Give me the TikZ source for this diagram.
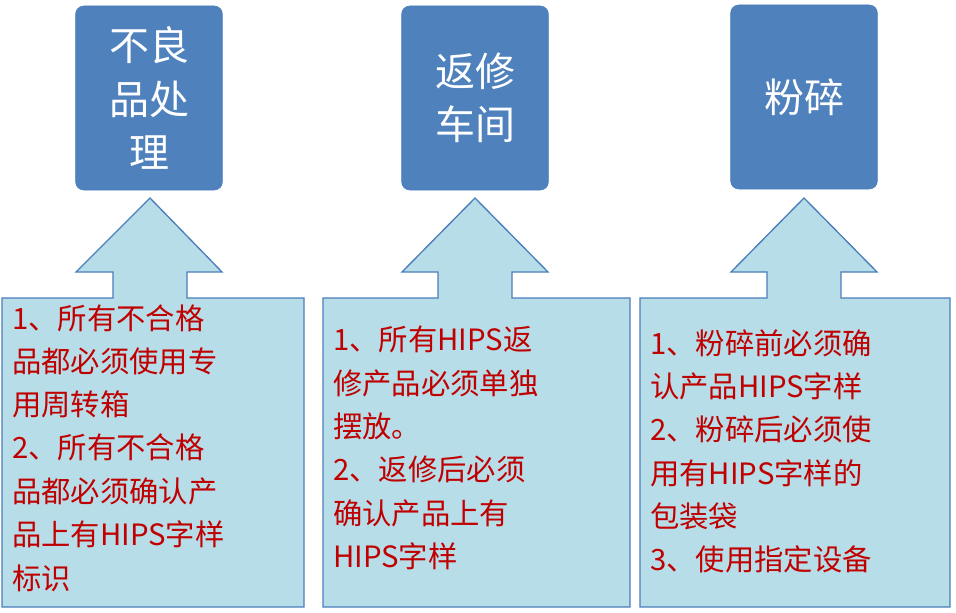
\documentclass[tikz,border=0pt]{standalone}
\usepackage{fontspec}
\setmainfont{Noto Sans CJK SC}
\usepackage{tikz}
\definecolor{headblue}{HTML}{4F81BD}
\definecolor{callblue}{HTML}{B7DDE8}
\definecolor{edgeblue}{HTML}{4A7EBB}
\definecolor{notered}{HTML}{C00000}
\tikzset{
  head/.style={draw=edgeblue, fill=headblue, rounded corners=6pt, text=white,
    minimum width=110pt, minimum height=138pt, align=center,
    font=\fontsize{30}{40}\selectfont},
  call/.style={draw=edgeblue, fill=callblue, line width=1pt, line join=miter},
  note/.style={anchor=north west, text=notered, align=left, inner sep=0pt,
    font=\fontsize{22}{32.5}\selectfont}
}
\begin{document}
\begin{tikzpicture}[x=0.75pt,y=-0.75pt]
\useasboundingbox (0,0) rectangle (956,613);
% top boxes
\node[head] (bad) at (149,98) {不良\\品处\\理};
\node[head] (rep) at (475,98) {返修\\车间};
\node[head] (crush) at (804,97) {粉碎};
% callouts
\draw[call] (2,298) -- (113,298) -- (113,272) -- (76,272) -- (150,198) -- (222,272)
  -- (187,272) -- (187,298) -- (304,298) -- (304,607) -- (2,607) -- cycle;
\draw[call] (323,298) -- (438,298) -- (438,272) -- (402,272) -- (475,198) -- (548,272)
  -- (512,272) -- (512,298) -- (630,298) -- (630,607) -- (323,607) -- cycle;
\draw[call] (640,298) -- (767,298) -- (767,272) -- (731,272) -- (804,198) -- (877,272)
  -- (841,272) -- (841,298) -- (950,298) -- (950,607) -- (640,607) -- cycle;
% notes
\node[note] (badtxt) at (12,304) {1、所有不合格\\品都必须使用专\\用周转箱\\2、所有不合格\\品都必须确认产\\品上有HIPS字样\\标识};
\node[note] (reptxt) at (333,326) {1、所有HIPS返\\修产品必须单独\\摆放。\\2、返修后必须\\确认产品上有\\HIPS字样};
\node[note] (crushtxt) at (650,329) {1、粉碎前必须确\\认产品HIPS字样\\2、粉碎后必须使\\用有HIPS字样的\\包装袋\\3、使用指定设备};
\end{tikzpicture}
\end{document}
